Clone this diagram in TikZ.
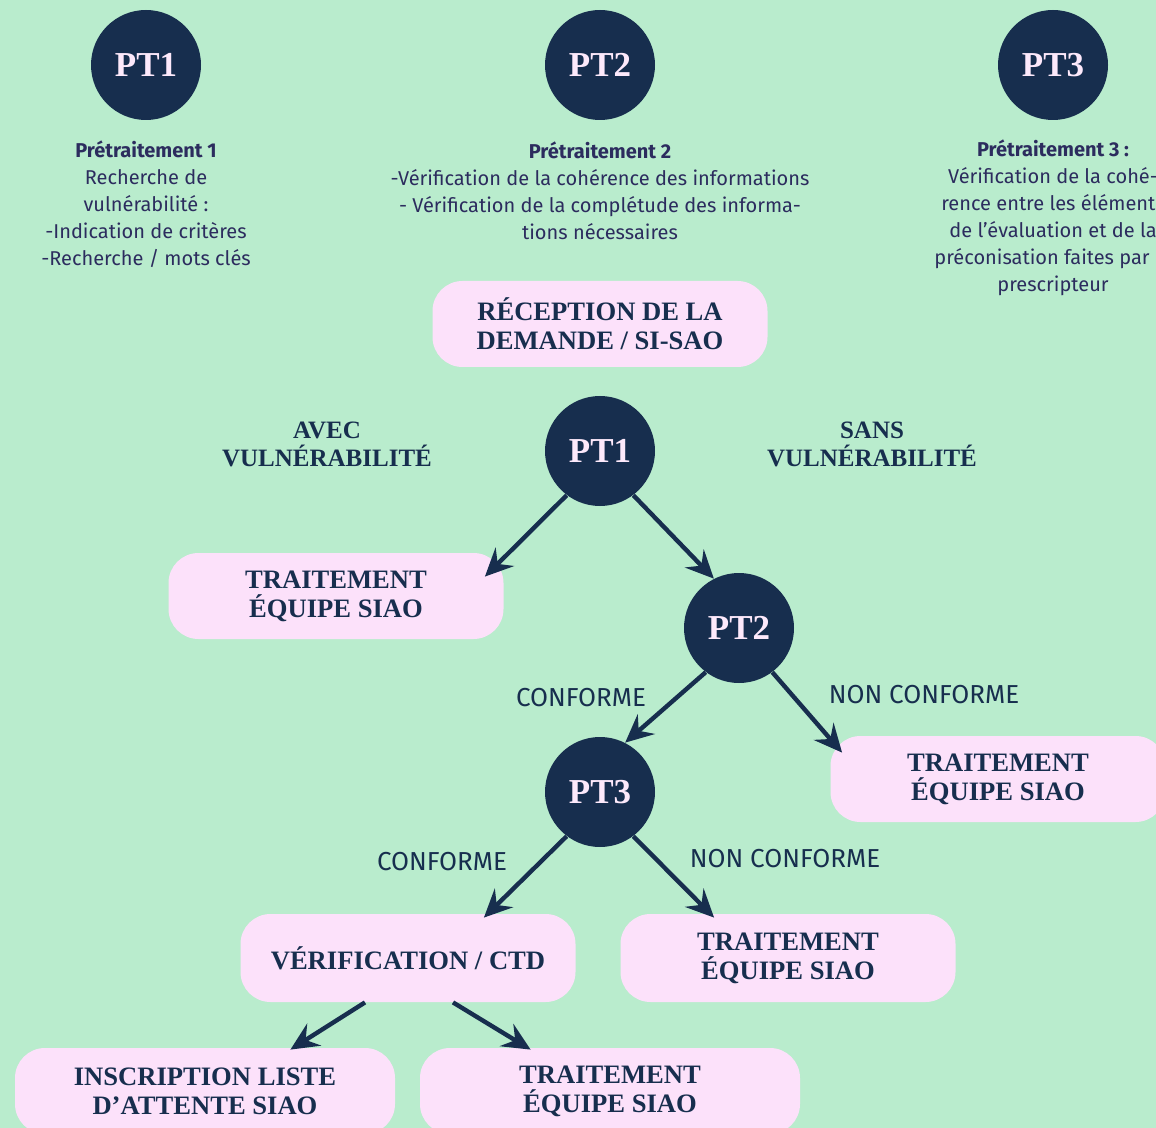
\documentclass[tikz,border=0pt]{standalone}
\usepackage{fontspec}
\usetikzlibrary{arrows.meta,calc}
\newfontfamily\headfont{Liberation Serif}
\newfontfamily\bodyfont{Fira Sans}
\definecolor{mint}{HTML}{B9ECCD}
\definecolor{navy}{HTML}{172E4E}
\definecolor{pinkbox}{HTML}{FCE1FA}
\definecolor{ink}{HTML}{2C2C5E}
\definecolor{pale}{HTML}{FDE9FB}

\begin{document}
\begin{tikzpicture}[x=0.5pt,y=-0.5pt]
		\tikzstyle{every node}+=[inner sep=0pt]
		\tikzstyle{ptcircle}=[circle, fill=navy, minimum size=55pt, text=pale, font=\headfont\bfseries\fontsize{17.5}{18}\selectfont]
		\tikzstyle{box}=[fill=pinkbox, rounded corners=15pt, minimum width=167.5pt, minimum height=43pt, align=center, text=navy, font=\headfont\bfseries\fontsize{13.3}{14.5}\selectfont]
		\tikzstyle{desc}=[align=center, text=ink, font=\bodyfont\fontsize{10}{13.5}\selectfont]
		\tikzstyle{branch}=[text=navy, font=\bodyfont\fontsize{13}{14}\selectfont]
		\tikzstyle{head}=[align=center, text=navy, font=\headfont\bfseries\fontsize{12.5}{14}\selectfont]
		\tikzstyle{arr}=[draw=navy, line width=2.2pt, -{Stealth[length=14pt,width=13pt,inset=5pt]}]
		\useasboundingbox (0,0) rectangle (1156,1128);
		\clip (0,0) rectangle (1156,1128);
		\fill [mint] (0,0) rectangle (1156,1128);
		% the three pretreatments
		\node [ptcircle] (top1) at (146,65) {PT1};
		\node [ptcircle] (top2) at (600,65) {PT2};
		\node [ptcircle] (top3) at (1053,65) {PT3};
		\node [desc] (desc1) at (146,204) {\textbf{Prétraitement 1}\\Recherche de\\vulnérabilité :\\-Indication de critères\\-Recherche / mots clés};
		\node [desc] (desc2) at (600,191) {\textbf{Prétraitement 2}\\-Vérification de la cohérence des informations\\- Vérification de la complétude des informa-\\tions nécessaires};
		\node [desc] (desc3) at (1053,218) {\textbf{Prétraitement 3 :}\\Vérification de la cohé-\\rence entre les éléments\\de l’évaluation et de la\\préconisation faites par le\\prescripteur};
		% decision tree
		\node [box] (recep) at (600,324) {RÉCEPTION DE LA\\DEMANDE / SI-SAO};
		\node [ptcircle] (pt1) at (600,451) {PT1};
		\node [head] (avec) at (327,444) {AVEC\\VULNÉRABILITÉ};
		\node [head] (sans) at (872,444) {SANS\\VULNÉRABILITÉ};
		\node [box] (trtA) at (336,596) {TRAITEMENT\\ÉQUIPE SIAO};
		\node [ptcircle] (pt2) at (739,628) {PT2};
		\node [branch] (conf1) at (581,698) {CONFORME};
		\node [branch] (nconf1) at (924,695) {NON CONFORME};
		\node [box] (trtB) at (998,779) {TRAITEMENT\\ÉQUIPE SIAO};
		\node [ptcircle] (pt3) at (600,792) {PT3};
		\node [branch] (conf2) at (442,862) {CONFORME};
		\node [branch] (nconf2) at (785,859) {NON CONFORME};
		\node [box, minimum height=44pt] (verif) at (408,958) {VÉRIFICATION / CTD};
		\node [box, minimum height=44pt] (trtC) at (788,958) {TRAITEMENT\\ÉQUIPE SIAO};
		\node [box, minimum width=190pt] (inscr) at (205,1091) {INSCRIPTION LISTE\\D’ATTENTE SIAO};
		\node [box, minimum width=190pt] (trtD) at (610,1091) {TRAITEMENT\\ÉQUIPE SIAO};
		% arrows
		\draw [arr] (pt1.233) -- ($(trtA.north east)+(-19,24)$);
		\draw [arr] (pt1.-53) -- (pt2.117);
		\draw [arr] (pt2.233) -- (pt3.63);
		\draw [arr] (pt2.-53) -- ($(trtB.north west)+(12,17)$);
		\draw [arr] (pt3.233) -- ($(verif.north east)+(-92,4)$);
		\draw [arr] (pt3.-53) -- ($(trtC.north west)+(94,4)$);
		\draw [arr] ($(verif.south)+(-43,0)$) -- ($(inscr.north east)+(-105,2)$);
		\draw [arr] ($(verif.south)+(45,0)$) -- ($(trtD.north west)+(111,2)$);
\end{tikzpicture}
\end{document}
